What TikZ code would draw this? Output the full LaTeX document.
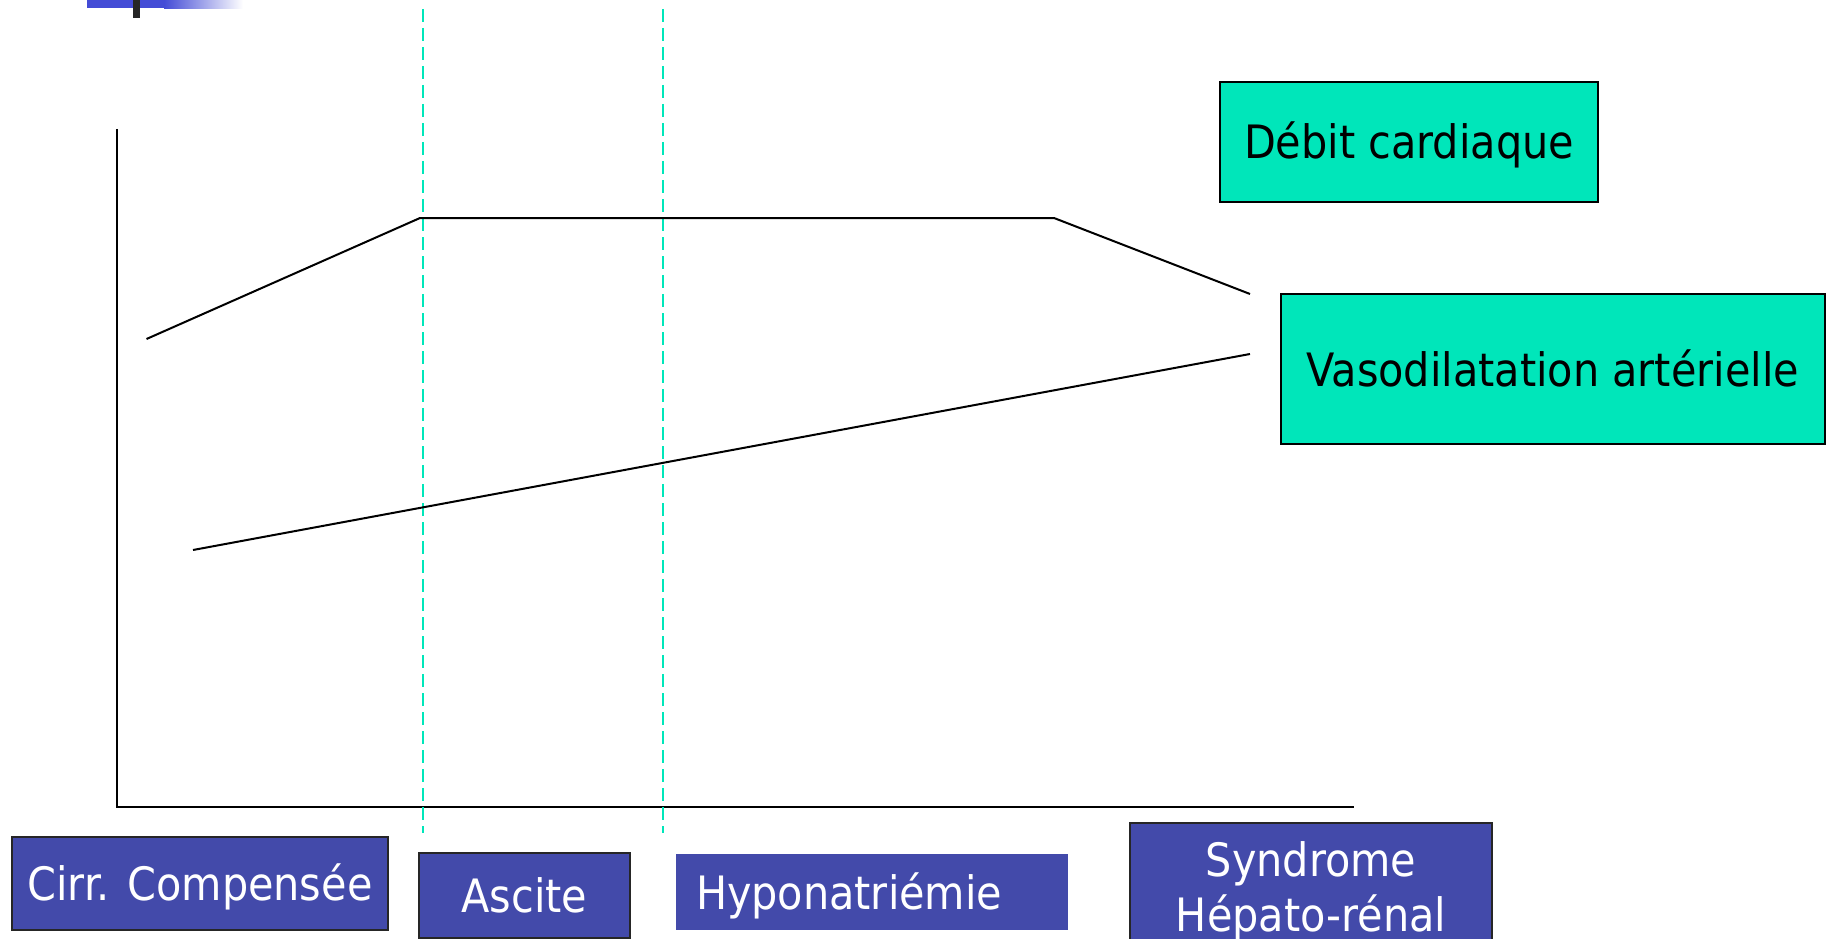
\documentclass[tikz,border=0pt]{standalone}
\usepackage{fontspec}
\setmainfont{DejaVu Sans Condensed}
\usetikzlibrary{positioning}
\definecolor{turq}{RGB}{0,230,186}
\definecolor{stageblue}{RGB}{67,74,170}
\definecolor{barblue}{RGB}{68,76,214}
\tikzset{
    axis/.style = {line width=2.5pt,black},
    curve/.style = {line width=2pt,black},
    stageline/.style = {line width=2pt,turq,dash pattern=on 13pt off 6pt}, % stage limits
    greenbox/.style = {rectangle, draw=black, line width=2pt, fill=turq, inner sep=0pt, font=\fontsize{46}{55}\selectfont},
    bluebox/.style = {rectangle, draw=black!85, line width=2pt, fill=stageblue, text=white, inner sep=0pt, font=\fontsize{46}{55}\selectfont},
    oneline/.style = {text height=34pt, text depth=0pt},
}
\begin{document}
\begin{tikzpicture}[x=1pt,y=-1pt]
\useasboundingbox (0,0) rectangle (1834,939);

% template bar
\fill[barblue] (87,0) rectangle (164,8);
\shade[left color=barblue,right color=white] (164,0) rectangle (243,9);
\fill[black!85] (133,0) rectangle (140,18);

\coordinate (top) at (117,129);
\coordinate (o) at (117,807);
\coordinate (end) at (1354,807);
\draw[axis] (top) -- (o) -- (end);

\draw[stageline] (422.5,9) -- (422.5,833);
\draw[stageline] (663,9) -- (663,833);

\draw[curve] (146.5,339) -- (420,218) -- (1054,218) -- (1250,294);
\draw[curve] (193,550) -- (1250,354);

\node[greenbox, oneline, minimum width=378pt, minimum height=120pt] at (1409,142) (debit) {Débit cardiaque};
\node[greenbox, oneline, minimum width=544pt, minimum height=150pt] at (1553,369) (vaso) {Vasodilatation artérielle};
%
\node[bluebox, oneline, minimum width=376pt, minimum height=93pt] at (200,883.5) (cirr) {Cirr. Compensée};
\node[bluebox, oneline, minimum width=211pt, minimum height=85pt] at (524.5,895) (ascite) {Ascite};
\node[bluebox, oneline, draw=none, minimum height=76pt, text width=352pt, align=left, inner xsep=20pt] at (872,892) (hypo) {Hyponatriémie};
\node[bluebox, minimum width=362pt, minimum height=137pt, align=center, anchor=north] at (1311,822) (shr) {Syndrome\\Hépato-rénal};

\end{tikzpicture}
\end{document}
